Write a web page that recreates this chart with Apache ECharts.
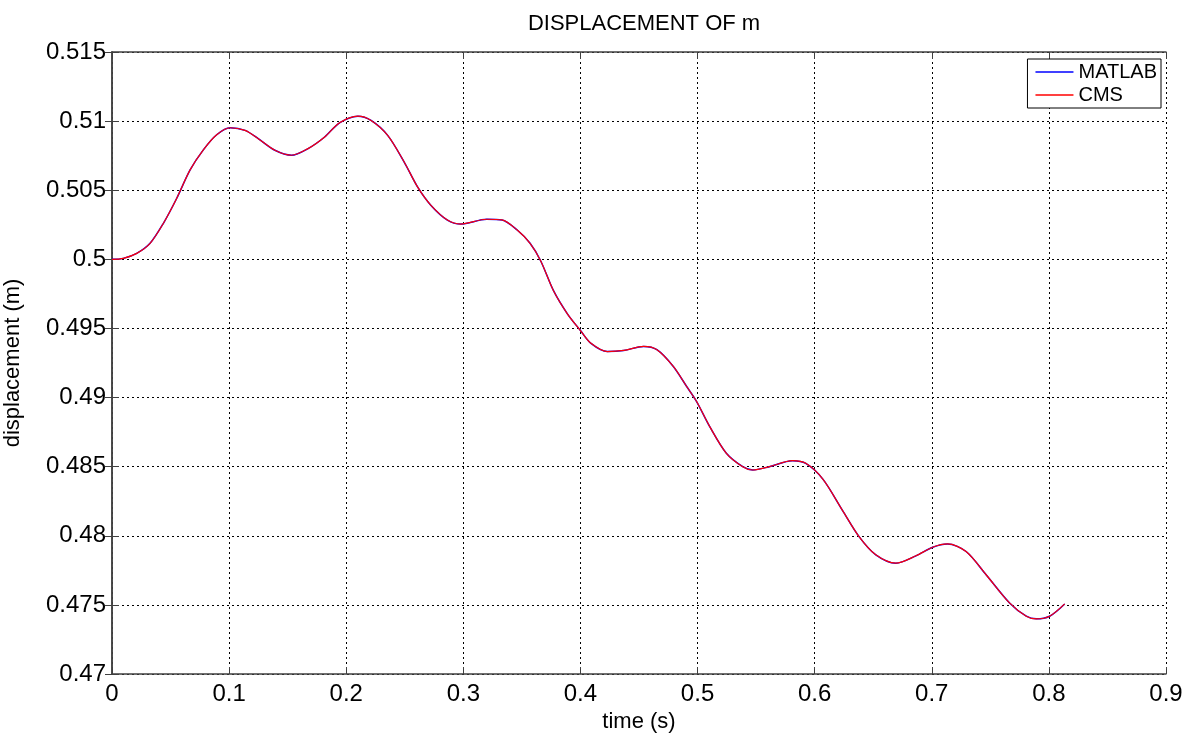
<!DOCTYPE html>
<html>
<head>
<meta charset="utf-8">
<title>DISPLACEMENT OF m</title>
<script src="https://cdn.jsdelivr.net/npm/echarts@6/dist/echarts.min.js"></script>
<style>
  html, body { margin: 0; padding: 0; background: #fff; }
  #main { width: 1194px; height: 736px; }
</style>
</head>
<body>
<div id="main"></div>
<script>
// time (s)
var time = [0, 0.0097, 0.0211, 0.0325, 0.0439, 0.0553, 0.0667, 0.078, 0.0894, 0.1008,
  0.1136, 0.1249, 0.1391, 0.1533, 0.1674, 0.1816, 0.1943, 0.2099, 0.2212, 0.2354,
  0.2495, 0.2609, 0.2722, 0.2864, 0.2977, 0.320, 0.333, 0.346, 0.357, 0.366,
  0.377, 0.389, 0.400, 0.4087, 0.4229, 0.437, 0.4539, 0.4653, 0.4793, 0.4907,
  0.4992, 0.5104, 0.5246, 0.5386, 0.5471, 0.5613, 0.581, 0.5924, 0.607, 0.6236,
  0.6379, 0.6522, 0.6693, 0.6865, 0.7007, 0.7135, 0.7293, 0.7464, 0.7664, 0.7807,
  0.7892, 0.8006, 0.8135];
// displacement (m)
var matlab = [0.50000, 0.50007, 0.50043, 0.50116, 0.50261, 0.50442, 0.50647, 0.50792, 0.50901, 0.50952,
  0.50933, 0.50873, 0.50789, 0.50753, 0.50801, 0.50885, 0.50988, 0.51036, 0.51005, 0.50897,
  0.50704, 0.50524, 0.50392, 0.50284, 0.50255, 0.50290, 0.50285, 0.50212, 0.50116, 0.49990,
  0.49773, 0.49604, 0.49485, 0.49394, 0.49333, 0.49341, 0.49370, 0.49346, 0.49225, 0.49080,
  0.48971, 0.48790, 0.48597, 0.48500, 0.48476, 0.48500, 0.48543, 0.48524, 0.48410, 0.48186,
  0.47994, 0.47862, 0.47802, 0.47855, 0.47917, 0.47941, 0.47886, 0.47718, 0.47514, 0.47418,
  0.47399, 0.47418, 0.47507];
// the CMS curve sits right on top of the MATLAB one
var cms = matlab.slice();

var seriesNames = ['MATLAB', 'CMS'];
var xTicks = [0, 0.1, 0.2, 0.3, 0.4, 0.5, 0.6, 0.7, 0.8, 0.9];
var yTicks = [0.47, 0.475, 0.48, 0.485, 0.49, 0.495, 0.5, 0.505, 0.51, 0.515];

function pairs(xs, ys) {
  return xs.map(function (x, i) { return [x, ys[i]]; });
}

var font = 'Liberation Sans, Arial, sans-serif';
var boxColor = '#404040';

var myChart = echarts.init(document.getElementById('main'));

var option = {
  backgroundColor: '#fff',
  animation: false,
  title: {
    text: 'DISPLACEMENT OF m',
    left: 639,
    textAlign: 'center',
    top: 8,
    textStyle: { color: '#000', fontFamily: font, fontSize: 22, fontWeight: 'normal' }
  },
  legend: {
    data: seriesNames,
    orient: 'vertical',
    right: 33,
    top: 59,
    padding: [3, 4, 3, 8],
    itemGap: 3,
    itemWidth: 38,
    itemHeight: 1.5,
    icon: 'rect',
    backgroundColor: '#fff',
    borderColor: '#000',
    borderWidth: 1,
    borderRadius: 0,
    textStyle: { color: '#000', fontFamily: font, fontSize: 20 }
  },
  grid: {
    left: 112,
    right: 28,
    top: 52,
    bottom: 62,
    containLabel: false,
    outerBoundsMode: 'none'
  },
  xAxis: [
    {
      type: 'value',
      min: xTicks[0],
      max: xTicks[xTicks.length - 1],
      interval: 0.1,
      name: 'time (s)',
      nameLocation: 'middle',
      nameGap: 33,
      nameTextStyle: { color: '#000', fontFamily: font, fontSize: 22 },
      axisLine: { lineStyle: { color: boxColor, width: 1.5 } },
      axisTick: { inside: true, length: 7, lineStyle: { color: boxColor } },
      axisLabel: {
        color: '#000', fontFamily: font, fontSize: 24, margin: 8,
        formatter: function (v) { return String(Math.round(v * 10) / 10); }
      },
      splitLine: { show: true, lineStyle: { color: '#000', type: [2, 3], width: 1 } }
    },
    {
      type: 'value',
      position: 'top',
      min: xTicks[0],
      max: xTicks[xTicks.length - 1],
      interval: 0.1,
      axisLine: { show: true, lineStyle: { color: boxColor, width: 1.5 } },
      axisTick: { show: true, inside: true, length: 7, lineStyle: { color: boxColor } },
      axisLabel: { show: false },
      splitLine: { show: false }
    }
  ],
  yAxis: [
    {
      type: 'value',
      min: yTicks[0],
      max: yTicks[yTicks.length - 1],
      interval: 0.005,
      name: 'displacement (m)',
      nameLocation: 'middle',
      nameGap: 88,
      nameTextStyle: { color: '#000', fontFamily: font, fontSize: 22 },
      axisLine: { show: true, lineStyle: { color: boxColor, width: 1.5 } },
      axisTick: { show: true, inside: true, length: 7, lineStyle: { color: boxColor } },
      axisLabel: {
        color: '#000', fontFamily: font, fontSize: 24, margin: 6,
        formatter: function (v) { return String(Math.round(v * 1000) / 1000); }
      },
      splitLine: { show: true, lineStyle: { color: '#000', type: [2, 3], width: 1 } }
    },
    {
      type: 'value',
      position: 'right',
      min: yTicks[0],
      max: yTicks[yTicks.length - 1],
      interval: 0.005,
      axisLine: { show: true, lineStyle: { color: boxColor, width: 1.5 } },
      axisTick: { show: true, inside: true, length: 7, lineStyle: { color: boxColor } },
      axisLabel: { show: false },
      splitLine: { show: false }
    }
  ],
  series: [
    {
      name: seriesNames[0],
      type: 'line',
      data: pairs(time, matlab),
      smooth: 0.3,
      symbol: 'none',
      lineStyle: { color: '#0000ff', width: 1.5 },
      itemStyle: { color: '#0000ff' }
    },
    {
      name: seriesNames[1],
      type: 'line',
      data: pairs(time, cms),
      smooth: 0.3,
      symbol: 'none',
      lineStyle: { color: '#ff0000', width: 1.2 },
      itemStyle: { color: '#ff0000' }
    }
  ]
};

myChart.setOption(option);
</script>
</body>
</html>
